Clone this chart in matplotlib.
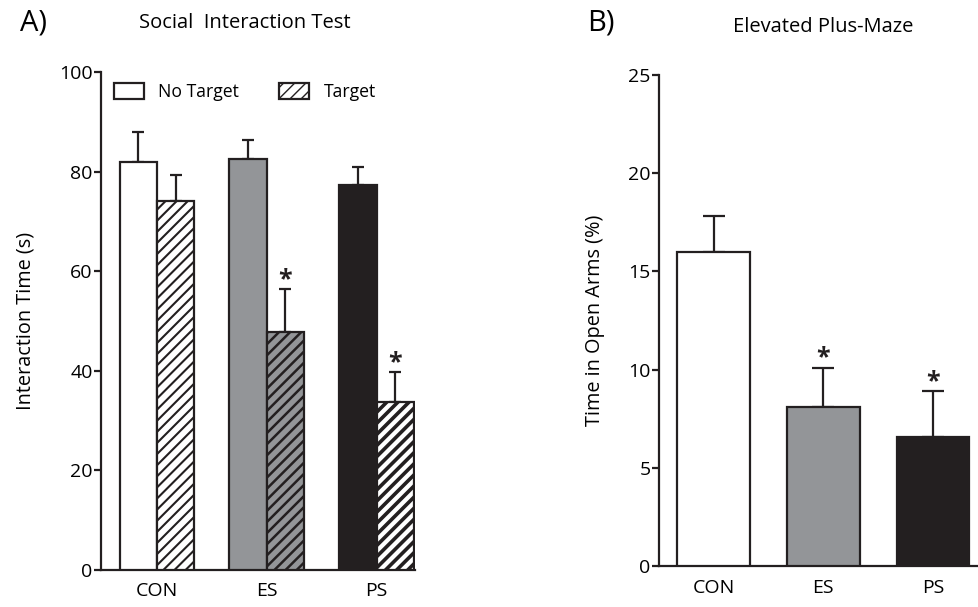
import numpy as np
import matplotlib
matplotlib.use("Agg")
import matplotlib.pyplot as plt

plt.rcParams["font.family"] = ["Open Sans", "DejaVu Sans"]

# --- data ---
groups = ["CON", "ES", "PS"]
group_colors = ["white", "#939598", "#231f20"]

# Social interaction test (s)
no_target = [82.0, 82.7, 77.3]
no_target_sem = [6.0, 3.8, 3.8]
target = [74.2, 47.8, 33.7]
target_sem = [5.2, 8.6, 6.0]
target_sig = [False, True, True]

# Elevated plus-maze (% time in open arms)
open_arms = [16.0, 8.1, 6.55]
open_arms_sem = [1.8, 2.0, 2.35]
open_arms_sig = [False, True, True]

EDGE = "#231f20"
LW = 1.6

fig = plt.figure(figsize=(9.79, 6.07), dpi=100)
axA = fig.add_axes([0.1032, 0.0610, 0.3207, 0.8196])
axB = fig.add_axes([0.6731, 0.0675, 0.3269, 0.8089])


def style_axis(ax):
    for s in ["top", "right"]:
        ax.spines[s].set_visible(False)
    for s in ["left", "bottom"]:
        ax.spines[s].set_linewidth(LW)
        ax.spines[s].set_color(EDGE)
    ax.tick_params(axis="y", length=5, width=LW, color=EDGE, labelsize=14, pad=1)
    ax.tick_params(axis="x", length=0, labelsize=14, pad=9)


# --- A) social interaction ---
x = np.arange(len(groups))
w = 0.34
axA.bar(x - w / 2, no_target, w, color=group_colors, edgecolor=EDGE, linewidth=LW, zorder=3)
target_faces = ["white", "#939598", "white"]
bars_t = axA.bar(x + w / 2, target, w, color=target_faces, edgecolor=EDGE, linewidth=LW,
                 hatch="///", zorder=3)
for b, hw in zip(bars_t, [1.5, 1.8, 2.6]):
    if hasattr(b, "set_hatch_linewidth"):
        b.set_hatch_linewidth(hw)
axA.errorbar(x - w / 2, no_target, yerr=[np.zeros(3), no_target_sem], fmt="none",
             ecolor=EDGE, elinewidth=LW, capsize=4, capthick=LW, zorder=2)
axA.errorbar(x + w / 2, target, yerr=[np.zeros(3), target_sem], fmt="none",
             ecolor=EDGE, elinewidth=LW, capsize=4, capthick=LW, zorder=2)
for xi, v, e, sig in zip(x + w / 2, target, target_sem, target_sig):
    if sig:
        axA.text(xi, v + e + 0.7, "*", ha="center", va="baseline", fontsize=18,
                 fontweight="bold", color=EDGE)

axA.set_xlim(-0.51, 2.35)
axA.set_ylim(0, 100)
axA.set_yticks([0, 20, 40, 60, 80, 100])
axA.set_xticks(x)
axA.set_xticklabels(groups)
axA.set_ylabel("Interaction Time (s)", fontsize=14.3, labelpad=17)
style_axis(axA)

# legend drawn as patches
leg_nt = plt.Rectangle((0, 0), 1, 1, facecolor="white", edgecolor=EDGE, linewidth=LW)
leg_t = plt.Rectangle((0, 0), 1, 1, facecolor="white", edgecolor=EDGE, linewidth=LW, hatch="///")
axA.legend([leg_nt, leg_t], ["No Target", "Target"], ncol=2, frameon=False,
           loc="center left", bbox_to_anchor=(0.041, 0.961), fontsize=12.7,
           borderpad=0, borderaxespad=0,
           handlelength=1.7, handleheight=1.0, columnspacing=2.3, handletextpad=0.8)

fig.text(0.020, 0.962, "A)", fontsize=21, va="center", ha="left")
fig.text(0.250, 0.962, "Social  Interaction Test", fontsize=14.5, va="center", ha="center")

# --- B) elevated plus-maze ---
wB = 0.665
axB.bar(x, open_arms, wB, color=group_colors, edgecolor=EDGE, linewidth=LW, zorder=3)
axB.errorbar(x, open_arms, yerr=[np.zeros(3), open_arms_sem], fmt="none",
             ecolor=EDGE, elinewidth=LW, capsize=8, capthick=LW, zorder=2)
for xi, v, e, sig in zip(x, open_arms, open_arms_sem, open_arms_sig):
    if sig:
        axB.text(xi, v + e + 0.17, "*", ha="center", va="baseline", fontsize=18,
                 fontweight="bold", color=EDGE)

axB.set_xlim(-0.5, 2.42)
axB.set_ylim(0, 25)
axB.set_yticks([0, 5, 10, 15, 20, 25])
axB.set_xticks(x)
axB.set_xticklabels(groups)
axB.set_ylabel("Time in Open Arms (%)", fontsize=14.3, labelpad=17)
style_axis(axB)

fig.text(0.600, 0.962, "B)", fontsize=21, va="center", ha="left")
fig.text(0.841, 0.955, "Elevated Plus-Maze", fontsize=14.5, va="center", ha="center")

fig.savefig("out.png", dpi=100)
